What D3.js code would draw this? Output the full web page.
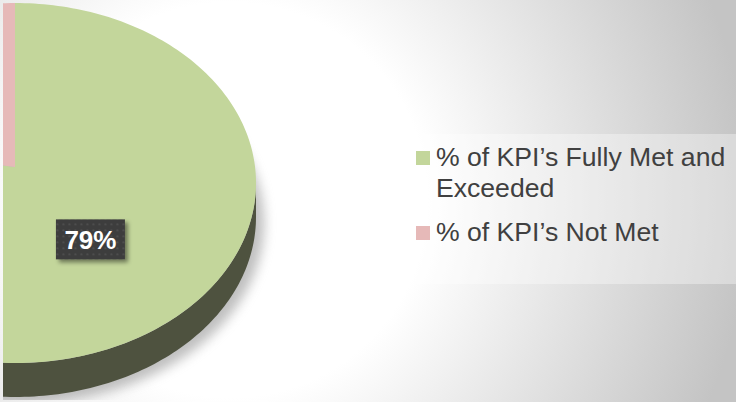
<!DOCTYPE html>
<html>
<head>
<meta charset="utf-8">
<script src="https://cdn.jsdelivr.net/npm/d3@7"></script>
<style>
  html, body { margin: 0; padding: 0; background: #fff; }
  svg { display: block; font-family: "Liberation Sans", Arial, sans-serif; }
</style>
</head>
<body>
<div id="chart"></div>
<script>
const categories = ["% of KPI’s Fully Met and Exceeded", "% of KPI’s Not Met"];
const values = [79, 21];
const colors = ["#c3d69b", "#e6b9b8"];
const sideColors = ["#4e523f", "#7a5a5a"];
const labelText = ["79%", ""];

const width = 736, height = 402;

const svg = d3.select("#chart").append("svg")
    .attr("width", width)
    .attr("height", height);

const defs = svg.append("defs");

// background gradient
const bg = defs.append("radialGradient")
    .attr("id", "bg")
    .attr("gradientUnits", "userSpaceOnUse")
    .attr("cx", 230).attr("cy", 200).attr("r", 520);
bg.append("stop").attr("offset", "0.38").attr("stop-color", "#ffffff");
bg.append("stop").attr("offset", "1").attr("stop-color", "#c4c4c4");

svg.append("rect")
    .attr("width", width).attr("height", height)
    .attr("fill", "url(#bg)");

defs.append("clipPath").attr("id", "plotClip")
  .append("rect").attr("x", 3).attr("y", 0).attr("width", 400).attr("height", 400);

const blur = defs.append("filter").attr("id", "blur")
    .attr("x", "-20%").attr("y", "-20%").attr("width", "140%").attr("height", "140%");
blur.append("feGaussianBlur").attr("stdDeviation", 6);

const lblShadow = defs.append("filter").attr("id", "lblShadow")
    .attr("x", "-20%").attr("y", "-20%").attr("width", "150%").attr("height", "150%");
lblShadow.append("feDropShadow")
    .attr("dx", 3).attr("dy", 3).attr("stdDeviation", 2)
    .attr("flood-color", "#000").attr("flood-opacity", 0.45);

const dots = defs.append("pattern").attr("id", "dots")
    .attr("patternUnits", "userSpaceOnUse")
    .attr("width", 6).attr("height", 6);
dots.append("rect").attr("width", 6).attr("height", 6).attr("fill", "#3c3c3c");
dots.append("rect").attr("x", 2).attr("y", 2).attr("width", 2).attr("height", 2).attr("fill", "#4e4e4e");

// pie geometry (3D look)
const cx = 15, cy = 183, rx = 241, ry = 180, depth = 34;
const apex = [cx, cy - 16];

const rim = (a, dy = 0) => [cx + rx * Math.sin(a), cy - ry * Math.cos(a) + dy];
const inner = (a, t) => [
  apex[0] + t * (rim(a)[0] - apex[0]),
  apex[1] + t * (rim(a)[1] - apex[1])
];

const pie = d3.pie().sort(null).value(d => d)(values);

function arcPoints(a0, a1, dy) {
  const n = Math.max(2, Math.ceil(Math.abs(a1 - a0) / 0.02));
  return d3.range(n + 1).map(i => rim(a0 + (a1 - a0) * i / n, dy));
}

const line = d3.line();
const g = svg.append("g").attr("clip-path", "url(#plotClip)");

// soft shadow
g.append("path")
    .attr("d", line([...arcPoints(0, 2 * Math.PI, depth)]) + "Z")
    .attr("transform", "translate(8,6)")
    .attr("fill", "#8a8a8a")
    .attr("opacity", 0.55)
    .attr("filter", "url(#blur)");

// side walls (front half of the rim)
pie.forEach((d, i) => {
  const s = Math.max(d.startAngle, Math.PI / 2);
  const e = Math.min(d.endAngle, 3 * Math.PI / 2);
  if (e <= s) return;
  const top = arcPoints(s, e, 0);
  const bot = arcPoints(e, s, depth);
  g.append("path")
      .attr("d", line([...top, ...bot]) + "Z")
      .attr("fill", sideColors[i]);
});

// top faces
pie.forEach((d, i) => {
  g.append("path")
      .attr("d", line([apex, ...arcPoints(d.startAngle, d.endAngle, 0)]) + "Z")
      .attr("fill", colors[i]);
});

// data labels
pie.forEach((d, i) => {
  if (!labelText[i]) return;
  const mid = (d.startAngle + d.endAngle) / 2;
  const [lx, ly] = inner(mid, 0.47);
  const bw = 69, bh = 40;
  const lg = svg.append("g").attr("transform", `translate(${lx + 6},${ly - 2})`);
  lg.append("rect")
      .attr("x", -bw / 2).attr("y", -bh / 2)
      .attr("width", bw).attr("height", bh)
      .attr("fill", "url(#dots)")
      .attr("filter", "url(#lblShadow)");
  lg.append("text")
      .attr("text-anchor", "middle")
      .attr("y", 9.5)
      .attr("fill", "#fff")
      .attr("font-size", 26)
      .attr("font-weight", "bold")
      .text(labelText[i]);
});

// legend
const legend = svg.append("g");
legend.append("rect")
    .attr("x", 403).attr("y", 134)
    .attr("width", 333).attr("height", 150)
    .attr("fill", "#ffffff").attr("opacity", 0.35);

function wrap(str, maxW, fontSize) {
  const words = str.split(" ");
  const tmp = svg.append("text").attr("font-size", fontSize);
  const lines = [];
  let cur = "";
  words.forEach(w => {
    const test = cur ? cur + " " + w : w;
    tmp.text(test);
    if (tmp.node().getComputedTextLength() > maxW && cur) {
      lines.push(cur);
      cur = w;
    } else cur = test;
  });
  lines.push(cur);
  tmp.remove();
  return lines;
}

const fs = 26.6;
let ly = 166;
categories.forEach((c, i) => {
  const lines = wrap(c, 296, fs);
  legend.append("rect")
      .attr("x", 416).attr("y", ly - 15)
      .attr("width", 14).attr("height", 14)
      .attr("fill", colors[i]);
  const t = legend.append("text")
      .attr("x", 436).attr("y", ly)
      .attr("font-size", fs)
      .attr("fill", "#404040");
  lines.forEach((l, j) => {
    t.append("tspan").attr("x", 436).attr("dy", j === 0 ? 0 : 31).text(l);
  });
  ly += 31 * (lines.length - 1) + 44;
});
</script>
</body>
</html>
